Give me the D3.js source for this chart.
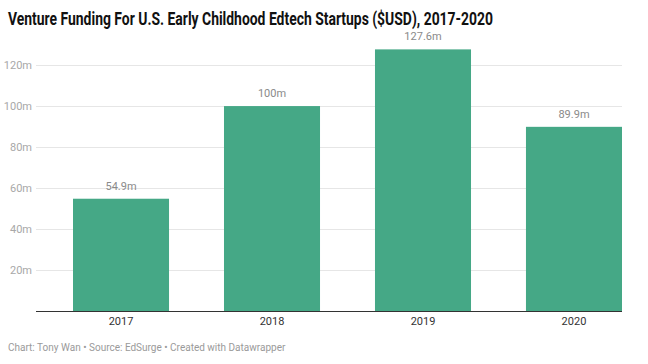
<!DOCTYPE html>
<html>
<head>
<meta charset="utf-8">
<script src="https://cdn.jsdelivr.net/npm/d3@7"></script>
<style>
  body { margin: 0; background: #fff; }
  svg { display: block; font-family: Roboto, "Noto Sans", sans-serif; }
</style>
</head>
<body>
<div id="chart"></div>
<script>
const years = ["2017", "2018", "2019", "2020"];
const funding = [54.9, 100, 127.6, 89.9];
const valueLabels = ["54.9m", "100m", "127.6m", "89.9m"];
const yTicks = [20, 40, 60, 80, 100, 120];

const W = 648, H = 364;
const plotLeft = 36, plotRight = 622, plotTop = 65, plotBottom = 311.5;

const svg = d3.select("#chart")
  .append("svg")
  .attr("width", W)
  .attr("height", H);

// Title
svg.append("text")
  .attr("x", 8)
  .attr("y", 25)
  .attr("font-size", 18)
  .attr("font-weight", 700)
  .attr("fill", "#111")
  .attr("textLength", 485)
  .attr("lengthAdjust", "spacingAndGlyphs")
  .text("Venture Funding For U.S. Early Childhood Edtech Startups ($USD), 2017-2020");

const x = d3.scaleBand()
  .domain(years)
  .range([73, plotRight])
  .paddingInner(0.364)
  .paddingOuter(0);

const y = d3.scaleLinear()
  .domain([0, 120])
  .range([plotBottom, plotTop]);

// Gridlines + y labels
const grid = svg.append("g");
grid.selectAll("line")
  .data(yTicks)
  .join("line")
  .attr("x1", plotLeft)
  .attr("x2", plotRight)
  .attr("y1", d => Math.round(y(d)) + 0.5)
  .attr("y2", d => Math.round(y(d)) + 0.5)
  .attr("stroke", "#e6e6e6")
  .attr("stroke-width", 1);

grid.selectAll("text")
  .data(yTicks)
  .join("text")
  .attr("x", 32)
  .attr("y", d => y(d))
  .attr("dy", "0.35em")
  .attr("text-anchor", "end")
  .attr("font-size", 11)
  .attr("fill", "#a8a8a8")
  .text(d => d + "m");

// Bars
svg.append("g")
  .selectAll("rect")
  .data(funding)
  .join("rect")
  .attr("x", (d, i) => x(years[i]))
  .attr("y", d => y(d))
  .attr("width", x.bandwidth())
  .attr("height", d => y(0) - y(d))
  .attr("fill", "#45a886");

// Value labels
svg.append("g")
  .selectAll("text")
  .data(funding)
  .join("text")
  .attr("x", (d, i) => x(years[i]) + x.bandwidth() / 2)
  .attr("y", d => y(d) - 9)
  .attr("text-anchor", "middle")
  .attr("font-size", 11)
  .attr("fill", "#8a8a8a")
  .text((d, i) => valueLabels[i]);

// Baseline
svg.append("line")
  .attr("x1", plotLeft)
  .attr("x2", plotRight)
  .attr("y1", plotBottom)
  .attr("y2", plotBottom)
  .attr("stroke", "#333")
  .attr("stroke-width", 1);

// X axis labels
svg.append("g")
  .selectAll("text")
  .data(years)
  .join("text")
  .attr("x", d => x(d) + x.bandwidth() / 2)
  .attr("y", 325)
  .attr("text-anchor", "middle")
  .attr("font-size", 11)
  .attr("fill", "#333")
  .text(d => d);

// Footer
svg.append("text")
  .attr("x", 8)
  .attr("y", 351)
  .attr("font-size", 10)
  .attr("fill", "#9a9a9a")
  .text("Chart: Tony Wan \u2022 Source: EdSurge \u2022 Created with Datawrapper");
</script>
</body>
</html>
